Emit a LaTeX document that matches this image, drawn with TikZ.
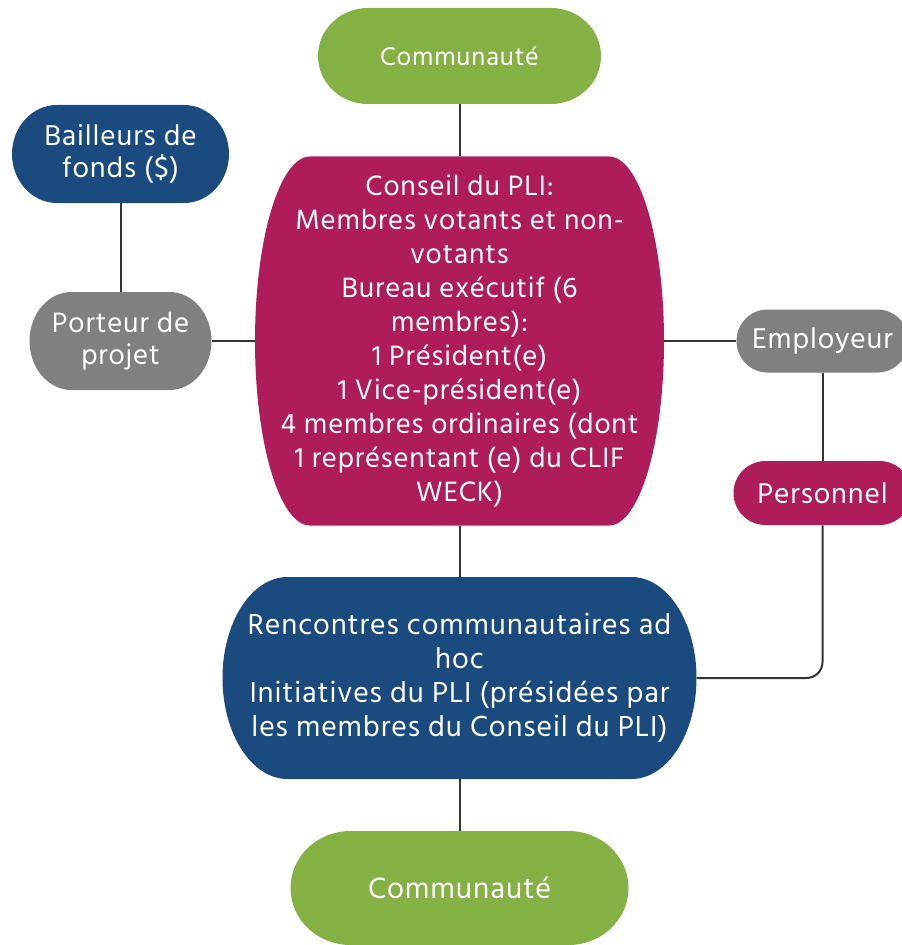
\documentclass[tikz,border=0pt]{standalone}
\usepackage{fontspec}
\setmainfont{Hind Madurai}[LetterSpace=3]
\usetikzlibrary{calc}

\definecolor{commgreen}{RGB}{132,176,68}
\definecolor{plipink}{RGB}{174,29,90}
\definecolor{fundblue}{RGB}{27,74,126}
\definecolor{staffgray}{RGB}{128,128,128}
\definecolor{linkgray}{RGB}{51,51,51}

\tikzset{
  boxtext/.style={inner sep=0pt,text=white,align=center,font=\fontsize{22}{24}\selectfont},
  bigtext/.style={font=\fontsize{21.5}{25.5}\selectfont},
  link/.style={draw=linkgray,line width=1.5pt},
}

% #1 name, #2 cx, #3 cy, #4 half width, #5 half height, #6 side radius, #7 colour, #8 text
\newcommand\pillbox[9][]{%
  \fill[#8] (#3-#5+#7,#4-#6) -- (#3+#5-#7,#4-#6)
    arc[start angle=-90,end angle=90,x radius=#7,y radius=#6]
    -- (#3-#5+#7,#4+#6)
    arc[start angle=90,end angle=270,x radius=#7,y radius=#6] -- cycle;
  \node[boxtext,minimum width=2*#5*0.75pt,minimum height=2*#6*0.75pt,#1] (#2) at (#3,#4) {#9};}

\begin{document}
\begin{tikzpicture}[x=0.75pt,y=0.75pt,yscale=-1,xscale=1]
\useasboundingbox (0,0) rectangle (902,945);

%Shape: Pill [top]
\pillbox[font=\fontsize{19.6}{24}\selectfont]{commtop}{459.5}{56}{141.5}{48}{50}{commgreen}{Communauté}
%Shape: Pill [funders]
\pillbox{funders}{120.5}{154}{108.5}{49}{45}{fundblue}{Bailleurs de\\fonds (\$)}
%Shape: Pill [holder]
\pillbox[font=\fontsize{21.6}{24}\selectfont]{holder}{120.5}{341}{91}{49}{42}{staffgray}{Porteur de\\projet}
%Shape: Pill [council]
\pillbox[bigtext]{council}{459.5}{341}{204.5}{184.5}{55}{plipink}{Conseil du PLI:\\Membres votants et non-\\votants\\Bureau exécutif (6\\membres):\\1 Président(e)\\1 Vice-président(e)\\4 membres ordinaires (dont\\1 représentant (e) du CLIF\\WECK)}
%Shape: Pill [employer]
\pillbox{employer}{822.5}{341}{86}{31.5}{31}{staffgray}{Employeur}
%Shape: Pill [staff]
\pillbox{staff}{822.5}{493}{89}{32}{32}{plipink}{Personnel}
%Shape: Pill [meetings]
\pillbox[font=\fontsize{22.3}{25.5}\selectfont]{meetings}{459.5}{678}{237}{101}{65}{fundblue}{Rencontres communautaires ad\\hoc\\Initiatives du PLI (présidées par\\les membres du Conseil du PLI)}
%Shape: Pill [bottom]
\pillbox[font=\fontsize{22.6}{28}\selectfont]{commbot}{459.5}{888}{169}{57}{60}{commgreen}{Communauté}

%Straight Lines
\draw[link] (commtop.south) -- (council.north);
\draw[link] (funders.south) -- (holder.north);
\draw[link] (holder.east) -- (council.west);
\draw[link] (council.east) -- (employer.west);
\draw[link] (employer.south) -- (staff.north);
\draw[link] (council.south) -- (meetings.north);
\draw[link] (meetings.south) -- (commbot.north);
\draw[link,rounded corners=12] (staff.south) |- (meetings.east);

\end{tikzpicture}
\end{document}
